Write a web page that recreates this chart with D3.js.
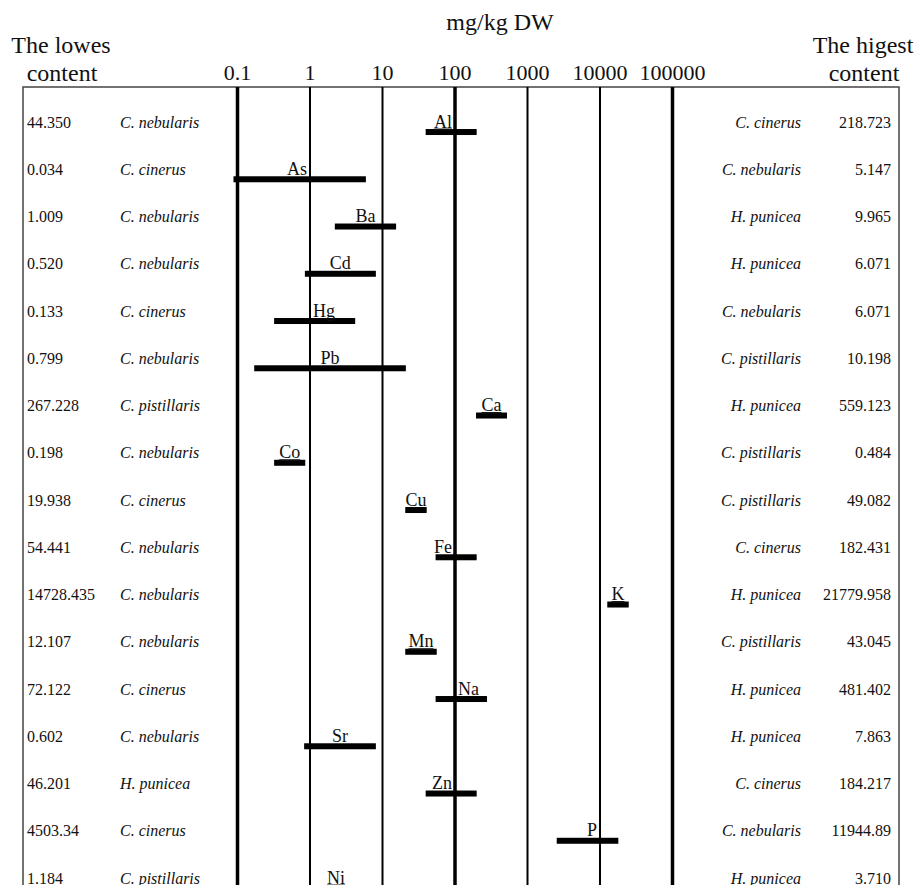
<!DOCTYPE html>
<html>
<head>
<meta charset="utf-8">
<script src="https://cdn.jsdelivr.net/npm/d3@7"></script>
<style>
  body { margin: 0; background: #fff; }
  svg { display: block; }
</style>
</head>
<body>
<div id="container"></div>
<script>
// elements, one row each
var elements = ['Al', 'As', 'Ba', 'Cd', 'Hg', 'Pb', 'Ca', 'Co', 'Cu', 'Fe', 'K', 'Mn', 'Na', 'Sr', 'Zn', 'P', 'Ni']

// lowest content (as printed) and the species it came from
var lowest = ['44.350', '0.034', '1.009', '0.520', '0.133', '0.799', '267.228', '0.198', '19.938',
  '54.441', '14728.435', '12.107', '72.122', '0.602', '46.201', '4503.34', '1.184']
var lowSpecies = ['C. nebularis', 'C. cinerus', 'C. nebularis', 'C. nebularis', 'C. cinerus', 'C. nebularis',
  'C. pistillaris', 'C. nebularis', 'C. cinerus', 'C. nebularis', 'C. nebularis', 'C. nebularis',
  'C. cinerus', 'C. nebularis', 'H. punicea', 'C. cinerus', 'C. pistillaris']

// highest content (as printed) and the species it came from
var highSpecies = ['C. cinerus', 'C. nebularis', 'H. punicea', 'H. punicea', 'C. nebularis', 'C. pistillaris',
  'H. punicea', 'C. pistillaris', 'C. pistillaris', 'C. cinerus', 'H. punicea', 'C. pistillaris',
  'H. punicea', 'H. punicea', 'C. cinerus', 'C. nebularis', 'H. punicea']
var highest = ['218.723', '5.147', '9.965', '6.071', '6.071', '10.198', '559.123', '0.484', '49.082',
  '182.431', '21779.958', '43.045', '481.402', '7.863', '184.217', '11944.89', '3.710']

// range bars, mg/kg as drawn in the figure
var barFrom = [39.4, 0.088, 2.2, 0.85, 0.32, 0.17, 195, 0.32, 20.6, 54, 12600, 20.6, 54, 0.83, 39.4, 2530, 1.47]
var barTo = [199, 5.9, 15.4, 8.1, 4.2, 21, 521, 0.86, 40.7, 199, 24900, 56, 276, 8.1, 199, 17900, 3.56]

// axis decades
var ticks = [0.1, 1, 10, 100, 1000, 10000, 100000]
var tickLabels = ['0.1', '1', '10', '100', '1000', '10000', '100000']

var width = 918
var height = 885
var tableTop = 87
var tableLeft = 23
var tableRight = 899

var underlined = new Set(['Al', 'Ca', 'Co', 'Mn', 'K', 'Ni'])
var thick = new Set([0.1, 100, 100000])

var x = d3.scaleLog()
  .domain([0.1, 100000])
  .range([237.5, 672.5])

var y = d3.scaleBand()
  .domain(elements)
  .range([98.4, 98.4 + elements.length * 47.25])

var svg = d3.select('#container').append('svg')
  .attr('width', width)
  .attr('height', height)
  .attr('font-family', "'Liberation Serif', 'Times New Roman', serif")
  .attr('fill', '#111')

// headers
svg.append('text')
  .attr('x', 500).attr('y', 30)
  .attr('text-anchor', 'middle')
  .attr('font-size', 24)
  .text('mg/kg DW')

svg.append('text')
  .attr('x', 61).attr('y', 53)
  .attr('text-anchor', 'middle')
  .attr('font-size', 24)
  .text('The lowes')
svg.append('text')
  .attr('x', 62).attr('y', 81)
  .attr('text-anchor', 'middle')
  .attr('font-size', 24)
  .text('content')

svg.append('text')
  .attr('x', 863).attr('y', 53)
  .attr('text-anchor', 'middle')
  .attr('font-size', 24)
  .text('The higest')
svg.append('text')
  .attr('x', 864).attr('y', 81)
  .attr('text-anchor', 'middle')
  .attr('font-size', 24)
  .text('content')

svg.append('g')
  .selectAll('text')
  .data(ticks)
  .enter().append('text')
  .attr('x', function (d) { return x(d) })
  .attr('y', 80)
  .attr('text-anchor', 'middle')
  .attr('font-size', 22)
  .text(function (d, i) { return tickLabels[i] })

// table frame (open at the bottom)
svg.append('path')
  .attr('d', 'M' + tableLeft + ',' + (height + 10) + 'V' + tableTop + 'H' + tableRight + 'V' + (height + 10))
  .attr('fill', 'none')
  .attr('stroke', '#444')
  .attr('stroke-width', 1.5)

// decade lines
svg.append('g')
  .selectAll('line')
  .data(ticks)
  .enter().append('line')
  .attr('x1', function (d) { return x(d) })
  .attr('x2', function (d) { return x(d) })
  .attr('y1', tableTop)
  .attr('y2', height + 10)
  .attr('stroke', '#000')
  .attr('stroke-width', function (d) { return thick.has(d) ? 3.5 : 2 })

var rows = svg.append('g')
  .selectAll('g')
  .data(elements)
  .enter().append('g')
  .attr('transform', function (d) { return 'translate(0,' + (y(d) + y.bandwidth() / 2) + ')' })

rows.append('text')
  .attr('x', 27).attr('dy', '0.35em')
  .attr('font-size', 16)
  .text(function (d, i) { return lowest[i] })

rows.append('text')
  .attr('x', 120).attr('dy', '0.35em')
  .attr('font-size', 16)
  .attr('font-style', 'italic')
  .text(function (d, i) { return lowSpecies[i] })

rows.append('text')
  .attr('x', 801).attr('dy', '0.35em')
  .attr('text-anchor', 'end')
  .attr('font-size', 16)
  .attr('font-style', 'italic')
  .text(function (d, i) { return highSpecies[i] })

rows.append('text')
  .attr('x', 891).attr('dy', '0.35em')
  .attr('text-anchor', 'end')
  .attr('font-size', 16)
  .text(function (d, i) { return highest[i] })

// range bars sit a little below the row text
rows.append('rect')
  .attr('x', function (d, i) { return x(barFrom[i]) })
  .attr('y', 7)
  .attr('width', function (d, i) { return x(barTo[i]) - x(barFrom[i]) })
  .attr('height', 6)
  .attr('fill', '#000')

// element label above its bar, pushed off a decade line when it would sit on one
function labelPos (i) {
  var c = (x(barFrom[i]) + x(barTo[i])) / 2
  var near = ticks.map(x).filter(function (t) { return Math.abs(t - c) < 14 })[0]
  if (near === undefined) return { x: c, anchor: 'middle' }
  if (c < near + 3) return { x: near - 3, anchor: 'end' }
  return { x: near + 3, anchor: 'start' }
}

rows.append('text')
  .attr('x', function (d, i) { return labelPos(i).x })
  .attr('y', 5.5)
  .attr('text-anchor', function (d, i) { return labelPos(i).anchor })
  .attr('font-size', 18)
  .attr('text-decoration', function (d) { return underlined.has(d) ? 'underline' : null })
  .text(function (d) { return d })
</script>
</body>
</html>
